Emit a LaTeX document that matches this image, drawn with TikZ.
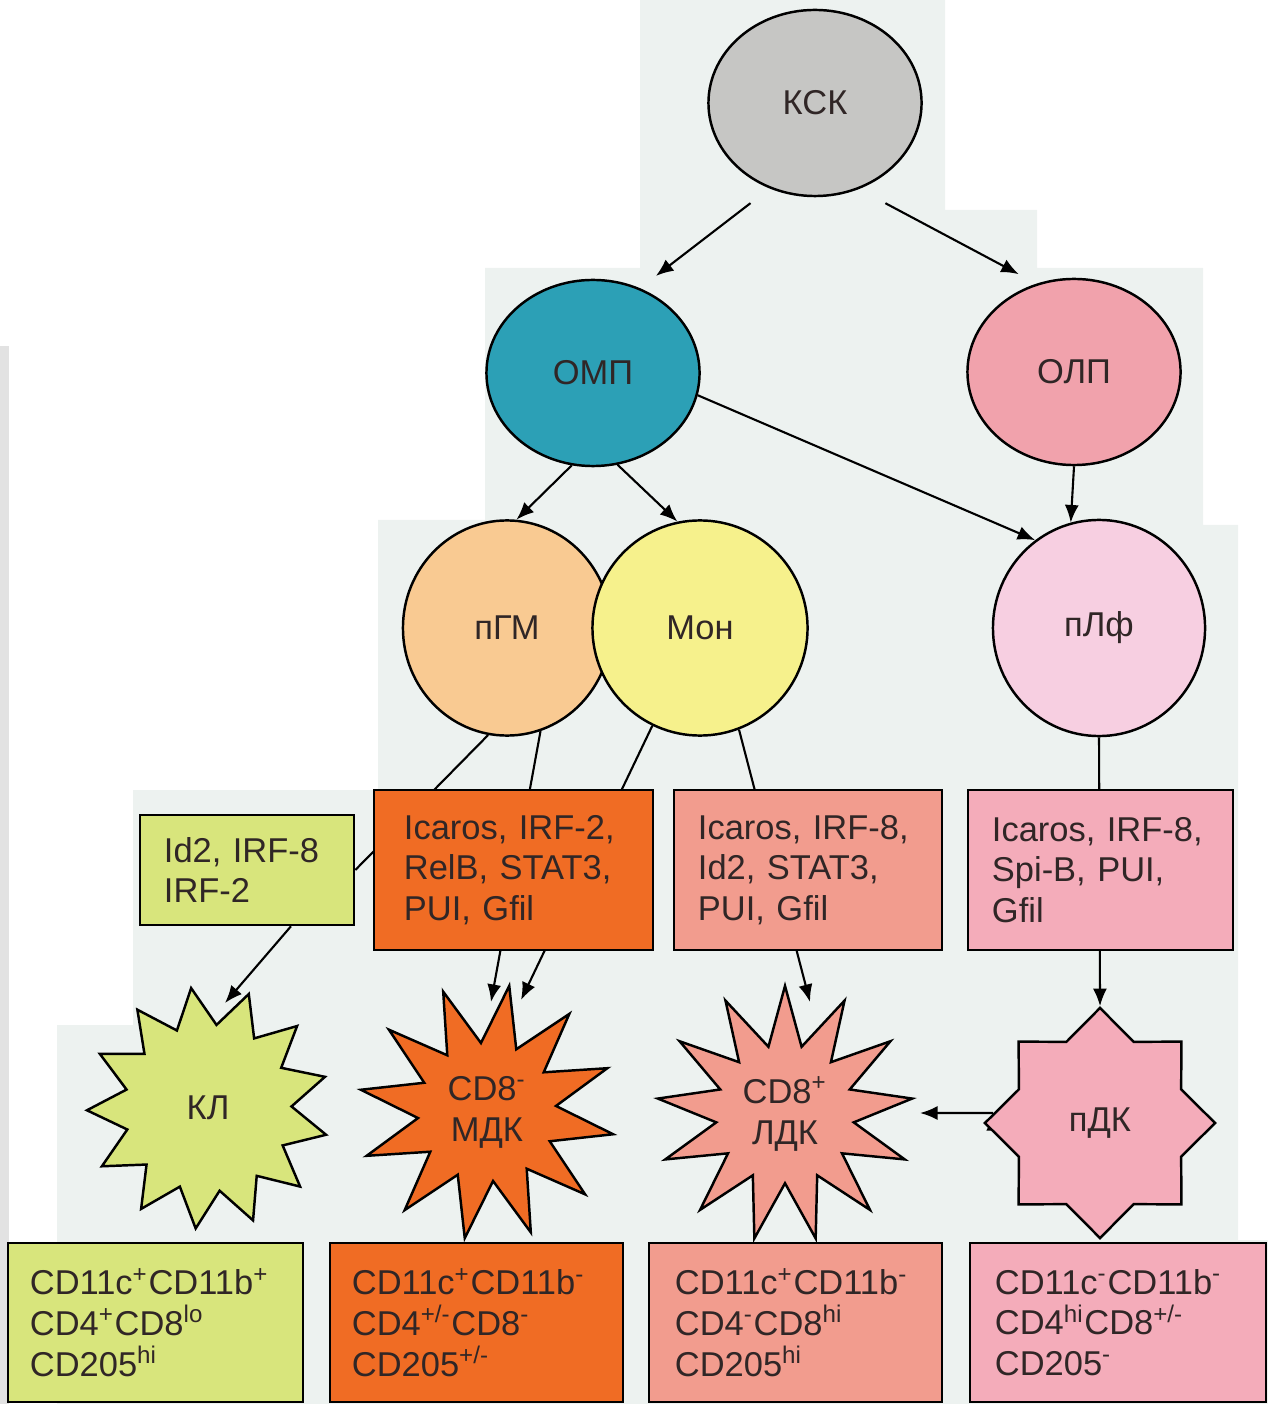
\documentclass[tikz,border=0pt]{standalone}
\usepackage{fontspec}
\setmainfont{Liberation Sans}
\usetikzlibrary{arrows, arrows.meta, shapes.geometric}
\pgfdeclarelayer{back}
\pgfdeclarelayer{wires}
\pgfsetlayers{back,wires,main}

\definecolor{ink}{RGB}{48,38,38}
\definecolor{paper}{RGB}{237,242,240}
\definecolor{pageedge}{RGB}{226,226,226}
\definecolor{kskgray}{RGB}{198,198,196}
\definecolor{ompteal}{RGB}{44,160,182}
\definecolor{olppink}{RGB}{241,162,172}
\definecolor{pgmorange}{RGB}{249,202,146}
\definecolor{monyellow}{RGB}{246,241,140}
\definecolor{plfpink}{RGB}{247,207,225}
\definecolor{klgreen}{RGB}{216,229,124}
\definecolor{mdkorange}{RGB}{240,108,36}
\definecolor{ldksalmon}{RGB}{242,156,142}
\definecolor{pdkpink}{RGB}{244,172,186}

\newcommand{\sps}[1]{\textsuperscript{#1}}

\tikzset{
->, % connectors are directed
>={Latex[length=5pt, width=4pt]}, % filled arrow heads
every node/.style={text=ink, font=\fontsize{9.8}{11.6}\selectfont},
cell/.style={ellipse, draw, line width=0.7pt, inner sep=0pt, minimum width=2.13cm, minimum height=1.86cm}, % progenitor cells
factor/.style={rectangle, draw, line width=0.7pt, align=left, inner xsep=0.24cm, minimum height=1.6cm}, % transcription factors
marker/.style={rectangle, draw, line width=0.7pt, align=left, inner xsep=0.22cm, minimum height=1.59cm}, % surface markers
burst/.style={star, draw, line width=0.7pt, inner sep=0pt, align=center}, % dendritic cells
link/.style={line width=0.6pt},
}

\begin{document}
\begin{tikzpicture}[x=0.01cm, y=-0.01cm]
      \useasboundingbox (0,0) rectangle (1268,1404);

      % progenitors
      \node[cell, fill=kskgray] (ksk) at (815,103) {КСК};
      \node[cell, fill=ompteal] (omp) at (593,373) {ОМП};
      \node[cell, fill=olppink] (olp) at (1074,372) {ОЛП};
      \node[cell, fill=pgmorange, minimum width=2.08cm, minimum height=2.15cm] (pgm) at (507,628) {пГМ};
      \node[cell, fill=monyellow, minimum width=2.15cm, minimum height=2.15cm] (mon) at (700,628) {Мон};
      \node[cell, fill=plfpink, minimum width=2.12cm, minimum height=2.16cm] (plf) at (1099,628) {пЛф};

      % transcription factors
      \node[factor, fill=klgreen, text width=1.66cm, minimum height=1.1cm] (klfac) at (247,870) {Id2, IRF-8\\IRF-2};
      \node[factor, fill=mdkorange, text width=2.19cm, inner xsep=0.3cm] (mdkfac) at (513.5,870) {Icaros, IRF-2,\\RelB, STAT3,\\PUI, Gfil};
      \node[factor, fill=ldksalmon, text width=2.2cm] (ldkfac) at (808,870) {Icaros, IRF-8,\\Id2, STAT3,\\PUI, Gfil};
      \node[factor, fill=pdkpink, text width=2.17cm] (pdkfac) at (1100.5,870) {Icaros, IRF-8,\\Spi-B, PUI,\\Gfil};

      % dendritic cells
      \node[burst, fill=klgreen, star points=13, star point ratio=1.45, minimum size=2.42cm, shape border rotate=8] (kl) at (208,1108) {КЛ};
      \node[burst, fill=mdkorange, star points=12, star point ratio=1.85, minimum size=2.56cm, shape border rotate=-10] (mdk) at (487,1112) {CD8\sps{-}\\МДК};
      \node[burst, fill=ldksalmon, star points=13, star point ratio=1.85, minimum size=2.56cm] (ldk) at (785,1114) {CD8\sps{+}\\ЛДК};
      \node[burst, fill=pdkpink, star points=8, star point ratio=1.31, minimum size=2.3cm] (pdk) at (1100,1123) {пДК};

      % surface markers
      \node[marker, fill=klgreen, text width=2.51cm] (klmark) at (155.5,1322.5) {CD11c\sps{+}CD11b\sps{+}\\CD4\sps{+}CD8\sps{lo}\\CD205\sps{hi}};
      \node[marker, fill=mdkorange, text width=2.49cm] (mdkmark) at (476.5,1322.5) {CD11c\sps{+}CD11b\sps{-}\\CD4\sps{+/-}CD8\sps{-}\\CD205\sps{+/-}};
      \node[marker, fill=ldksalmon, text width=2.41cm, inner xsep=0.26cm] (ldkmark) at (795.5,1322.5) {CD11c\sps{+}CD11b\sps{-}\\CD4\sps{-}CD8\sps{hi}\\CD205\sps{hi}};
      \node[marker, fill=pdkpink, text width=2.46cm, inner xsep=0.25cm] (pdkmark) at (1118,1322.5) {CD11c\sps{-}CD11b\sps{-}\\CD4\sps{hi}CD8\sps{+/-}\\CD205\sps{-}};

      \coordinate (klin) at (225,1003);
      \coordinate (mdkin) at (491,1002);
      \coordinate (mdkin2) at (521,1000);
      \coordinate (ldkin) at (810,1002);
      \coordinate (ldkside) at (920,1113);

      \begin{pgfonlayer}{back}
      \fill[paper, -] (640,0) -| (945,210) -| (1037,268) -| (1203,525) -| (1238,1240) -| (1268,1404)
            -| (57,1025) -| (133,790) -| (378,520) -| (485,268) -| (640,0) -- cycle;
      \fill[pageedge, -] (0,346) rectangle (9,1404);
      \end{pgfonlayer}

      \begin{pgfonlayer}{wires}
      \draw[link]
      (ksk.242) edge[shorten <=0.24cm, shorten >=0.2cm] (omp.61)
      (ksk.297) edge[shorten <=0.3cm, shorten >=0.2cm] (olp.113)
      (omp.257) edge (pgm.85)
      (omp.285) edge (mon.102)
      (omp.348) edge (plf.126)
      (olp.south) edge (plf.105)
      (pgm.260) edge[-] (klfac.east)
      (pgm.288) edge (mdkin)
      (mon.244) edge (mdkin2)
      (mon.291) edge (ldkin)
      (plf.south) edge (pdk.north)
      (klfac.308) edge (klin)
      ([xshift=0.1cm, yshift=0.1cm]pdk.west) edge (ldkside)
      ;
      \end{pgfonlayer}
\end{tikzpicture}
\end{document}
